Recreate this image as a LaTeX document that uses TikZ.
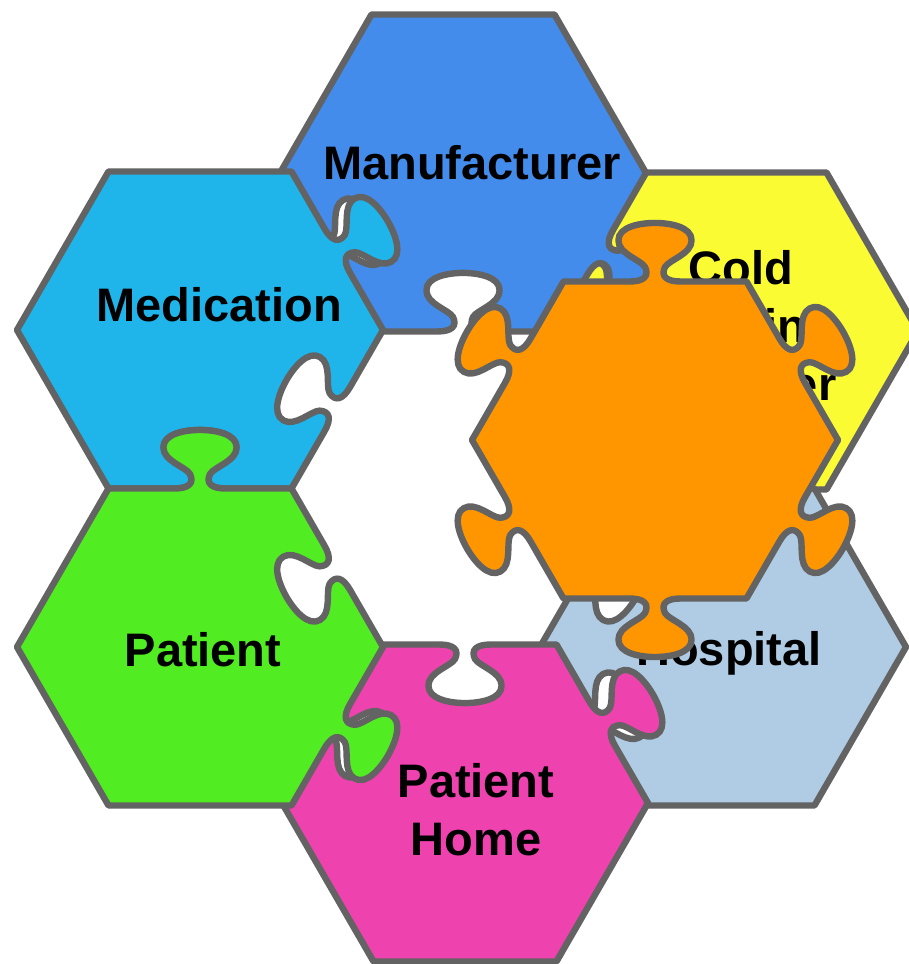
\documentclass[tikz,border=0pt]{standalone}
\usepackage{fontspec}
\setmainfont{Liberation Sans}
\usetikzlibrary{calc}

\definecolor{edgegrey}{RGB}{99,99,99}
\definecolor{manublue}{RGB}{67,140,235}
\definecolor{medblue}{RGB}{32,181,234}
\definecolor{coldyellow}{RGB}{251,251,52}
\definecolor{patgreen}{RGB}{82,236,34}
\definecolor{homepink}{RGB}{238,66,174}
\definecolor{hospblue}{RGB}{176,204,228}
\definecolor{keyorange}{RGB}{255,150,0}

\newcommand\edgept[4]{($(#1)+(60*#2:183)+(60*#2+120:#3*183)+(60*#2+30:#4*183)$)}
\newcommand\tabedge[3]{%
  -- \edgept{#1}{#2}{0.36}{0}
  .. controls \edgept{#1}{#2}{0.44}{0} and \edgept{#1}{#2}{0.47}{#3*0.03} .. \edgept{#1}{#2}{0.445}{#3*0.08}
  .. controls \edgept{#1}{#2}{0.42}{#3*0.12} and \edgept{#1}{#2}{0.30}{#3*0.15} .. \edgept{#1}{#2}{0.30}{#3*0.225}
  .. controls \edgept{#1}{#2}{0.30}{#3*0.30} and \edgept{#1}{#2}{0.42}{#3*0.32} .. \edgept{#1}{#2}{0.5}{#3*0.32}
  .. controls \edgept{#1}{#2}{0.58}{#3*0.32} and \edgept{#1}{#2}{0.70}{#3*0.30} .. \edgept{#1}{#2}{0.70}{#3*0.225}
  .. controls \edgept{#1}{#2}{0.70}{#3*0.15} and \edgept{#1}{#2}{0.58}{#3*0.12} .. \edgept{#1}{#2}{0.555}{#3*0.08}
  .. controls \edgept{#1}{#2}{0.53}{#3*0.03} and \edgept{#1}{#2}{0.56}{0} .. \edgept{#1}{#2}{0.64}{0}
  -- \edgept{#1}{#2}{1}{0}}
\newcommand\plainedge[2]{-- \edgept{#1}{#2}{1}{0}}

\tikzset{
  piece/.style={draw=edgegrey, line width=3.2pt, line join=round},
  pname/.style={font=\fontsize{23.5}{29}\selectfont\bfseries, align=center, inner sep=0pt}
}

\begin{document}
\begin{tikzpicture}[x=0.5pt, y=0.5pt]
 \clip (0,0) rectangle (909,964);
 \coordinate (cc) at (735,633);
 \coordinate (mf) at (463,791);
 \coordinate (ho) at (723,317);
 \coordinate (ph) at (465,161);
 \coordinate (md) at (200,634);
 \coordinate (pt) at (200,317);
 \coordinate (og) at (655,524);

 \filldraw[piece, fill=coldyellow] \edgept{cc}{0}{0}{0}
   \plainedge{cc}{0} \plainedge{cc}{1} \tabedge{cc}{2}{-1}
   \tabedge{cc}{3}{-1} \plainedge{cc}{4} \plainedge{cc}{5} -- cycle;
 \filldraw[piece, fill=manublue] \edgept{mf}{0}{0}{0}
   \plainedge{mf}{0} \plainedge{mf}{1} \plainedge{mf}{2}
   \tabedge{mf}{3}{-1} \tabedge{mf}{4}{-1} \tabedge{mf}{5}{1} -- cycle;
 \filldraw[piece, fill=hospblue] \edgept{ho}{0}{0}{0}
   \plainedge{ho}{0} \plainedge{ho}{1} \tabedge{ho}{2}{-1}
   \tabedge{ho}{3}{-1} \plainedge{ho}{4} \plainedge{ho}{5} -- cycle;
 \filldraw[piece, fill=homepink] \edgept{ph}{0}{0}{0}
   \tabedge{ph}{0}{1} \tabedge{ph}{1}{-1} \tabedge{ph}{2}{-1}
   \plainedge{ph}{3} \plainedge{ph}{4} \plainedge{ph}{5} -- cycle;
 \filldraw[piece, fill=medblue] \edgept{md}{0}{0}{0}
   \tabedge{md}{0}{1} \plainedge{md}{1} \plainedge{md}{2}
   \plainedge{md}{3} \tabedge{md}{4}{-1} \tabedge{md}{5}{-1} -- cycle;
 \filldraw[piece, fill=patgreen] \edgept{pt}{0}{0}{0}
   \tabedge{pt}{0}{-1} \tabedge{pt}{1}{1} \plainedge{pt}{2}
   \plainedge{pt}{3} \plainedge{pt}{4} \tabedge{pt}{5}{1} -- cycle;

 \node[pname] (manu) at (472,801) {Manufacturer};
 \node[pname] (med) at (219,659) {Medication};
 \node[pname] (cold) at (741,638) {Cold\\Chain\\Provider};
 \node[pname] (pat) at (203,314) {Patient};
 \node[pname] (home) at (476,154) {Patient\\Home};
 \node[pname] (hosp) at (729,311) {Hospital};

 \filldraw[piece, fill=keyorange] \edgept{og}{0}{0}{0}
   \tabedge{og}{0}{1} \tabedge{og}{1}{1} \tabedge{og}{2}{1}
   \tabedge{og}{3}{1} \tabedge{og}{4}{1} \tabedge{og}{5}{1} -- cycle;
\end{tikzpicture}
\end{document}
